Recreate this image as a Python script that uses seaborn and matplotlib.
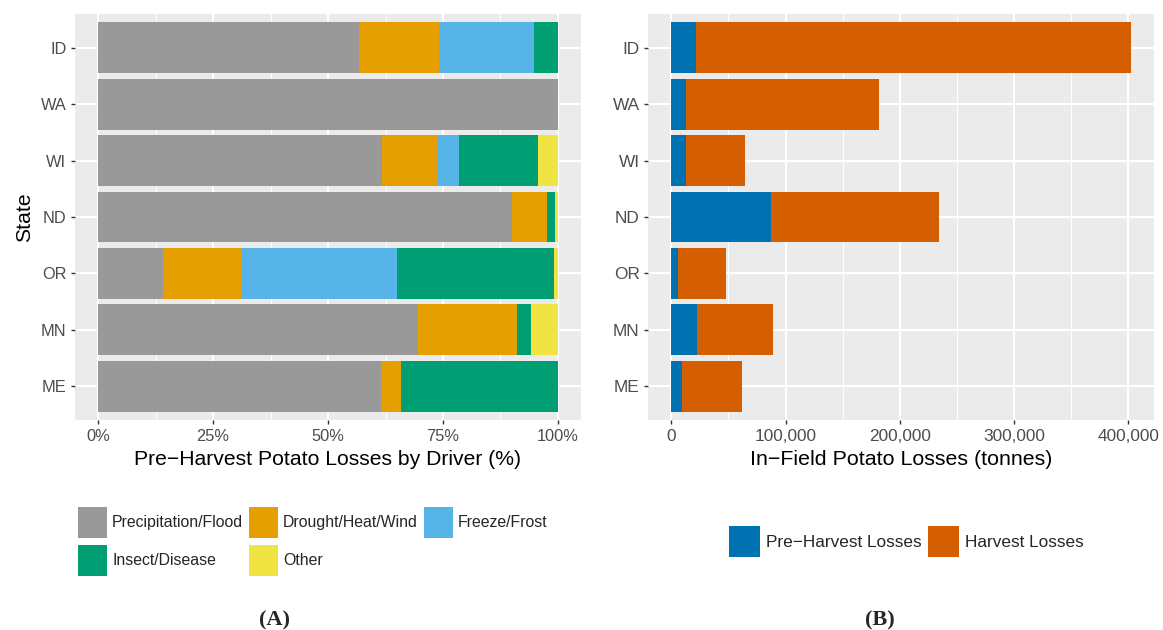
import numpy as np
import pandas as pd
import matplotlib
matplotlib.use("Agg")
import matplotlib.pyplot as plt
from matplotlib.patches import Patch
from matplotlib.ticker import FuncFormatter, MultipleLocator
import seaborn as sns

# ---- data -------------------------------------------------------------
states = ["ID", "WA", "WI", "ND", "OR", "MN", "ME"]

drivers = ["Precipitation/Flood", "Drought/Heat/Wind", "Freeze/Frost",
           "Insect/Disease", "Other"]
precip_flood = [56.7, 100.0, 61.7, 89.9, 14.1, 69.5, 61.5]
drought_heat_wind = [17.4, 0.0, 12.0, 7.8, 17.0, 21.6, 4.4]
freeze_frost = [20.7, 0.0, 4.8, 0.0, 33.9, 0.0, 0.0]
insect_disease = [5.2, 0.0, 17.1, 1.6, 34.1, 3.0, 34.1]
other = [0.0, 0.0, 4.4, 0.7, 0.9, 5.9, 0.0]

loss_types = ["Pre\u2212Harvest Losses", "Harvest Losses"]
pre_harvest = [21800, 13100, 13100, 87000, 5800, 22700, 9600]
harvest = [380500, 168400, 51500, 147700, 42200, 66300, 52400]

driver_colors = ["#999999", "#E69F00", "#56B4E9", "#009E73", "#F0E442"]
loss_colors = ["#0072B2", "#D55E00"]

# ---- style ------------------------------------------------------------
sns.set_theme(style="darkgrid")
plt.rcParams["font.family"] = ["Liberation Sans", "DejaVu Sans"]

# panel A and panel B text sizes (tick text, legend text, axis titles)
FS_A, LEG_A, TITLE_A = 11.8, 11.4, 15.2
FS_B, LEG_B, TITLE_B = 12.4, 12.4, 15.4
PANEL_BG = "#EBEBEB"

W, H = 1163, 630
fig = plt.figure(figsize=(W / 100, H / 100), dpi=100)
fig.patch.set_facecolor("white")


def px_axes(x0, y0, x1, y1):
    return fig.add_axes([x0 / W, 1 - y1 / H, (x1 - x0) / W, (y1 - y0) / H])


ax_a = px_axes(75, 14, 581, 420)
ax_b = px_axes(648.3, 14, 1154, 420)


def stacked_barh(ax, parts, colors):
    """Stack horizontal bars by overlaying cumulative totals, widest first."""
    cum = np.cumsum(np.array(parts, dtype=float), axis=0)
    for level in range(len(parts) - 1, -1, -1):
        df = pd.DataFrame({"state": states, "value": cum[level]})
        sns.barplot(data=df, x="value", y="state", order=states, orient="h",
                    color=colors[level], saturation=1, width=0.9,
                    linewidth=0, edgecolor="none", ax=ax)


def style_panel(ax, fs):
    ax.set_facecolor(PANEL_BG)
    for s in ax.spines.values():
        s.set_visible(False)
    ax.set_ylim(len(states) - 0.4, -0.6)
    ax.set_axisbelow(True)
    ax.grid(False)
    ax.xaxis.grid(True, which="major", color="white", linewidth=1.45)
    ax.xaxis.grid(True, which="minor", color="white", linewidth=0.75)
    ax.yaxis.grid(True, which="major", color="white", linewidth=1.45)
    ax.tick_params(axis="both", which="major", length=3.2, width=1.0,
                   color="#333333", labelcolor="#4D4D4D",
                   labelsize=fs, pad=3.0, bottom=True, left=True)
    ax.tick_params(axis="both", which="minor", length=0)
    ax.tick_params(axis="x", pad=3.5)


# ---- panel A: share of pre-harvest losses by driver ---------------------
stacked_barh(ax_a, [precip_flood, drought_heat_wind, freeze_frost,
                    insect_disease, other], driver_colors)
style_panel(ax_a, FS_A)
ax_a.set_xlim(-5, 105)
ax_a.set_xticks([0, 25, 50, 75, 100])
ax_a.xaxis.set_minor_locator(MultipleLocator(12.5))
ax_a.xaxis.set_major_formatter(FuncFormatter(lambda v, p: f"{v:.0f}%"))
ax_a.set_xlabel("Pre\u2212Harvest Potato Losses by Driver (%)",
                fontsize=TITLE_A, color="black", labelpad=4)
ax_a.set_ylabel("State", fontsize=TITLE_A, color="black", labelpad=5)

# ---- panel B: in-field losses in tonnes -----------------------------------
stacked_barh(ax_b, [pre_harvest, harvest], loss_colors)
style_panel(ax_b, FS_B)
total_max = max(p + h for p, h in zip(pre_harvest, harvest))
ax_b.set_xlim(-0.05 * total_max, 1.05 * total_max)
ax_b.set_xticks([0, 100000, 200000, 300000, 400000])
ax_b.xaxis.set_minor_locator(MultipleLocator(50000))
ax_b.xaxis.set_major_formatter(FuncFormatter(lambda v, p: f"{v:,.0f}"))
ax_b.set_xlabel("In\u2212Field Potato Losses (tonnes)",
                fontsize=TITLE_B, color="black", labelpad=4)
ax_b.set_ylabel("")


# ---- legends ------------------------------------------------------------
def legend_at(handles, x_px, y_px, ncol, fs, key_w, key_h, text_pad,
              row_gap, col_gap):
    fpx = fs * 100 / 72
    # matplotlib draws the patch at fontsize * (0.65 * handleheight + 0.245)
    hh = (key_h / fpx - 0.245) / 0.65
    fig.legend(handles=handles, loc="upper left",
               bbox_to_anchor=(x_px / W, 1 - y_px / H),
               bbox_transform=fig.transFigure, ncol=ncol, frameon=False,
               fontsize=fs, borderpad=0, borderaxespad=0,
               handlelength=key_w / fpx, handleheight=hh,
               handletextpad=text_pad / fpx, labelspacing=row_gap / fpx,
               columnspacing=col_gap / fpx)


driver_handles = [Patch(facecolor=c, edgecolor="none", label=l)
                  for l, c in zip(drivers, driver_colors)]
# row-wise reading order in a 3-column layout
order = [0, 3, 1, 4, 2]
legend_at([driver_handles[i] for i in order], 78, 507, 3, LEG_A,
          29, 31, 5, 7, 6)

loss_handles = [Patch(facecolor=c, edgecolor="none", label=l)
                for l, c in zip(loss_types, loss_colors)]
legend_at(loss_handles, 729, 526, 2, LEG_B, 31, 31, 6, 7, 6)

# ---- panel captions ---------------------------------------------------
for label, xc in [("(A)", 275), ("(B)", 880)]:
    fig.text(xc / W, 1 - 620 / H, label, ha="center", va="center",
             fontsize=16, fontweight="bold",
             family=["Liberation Serif", "DejaVu Serif"])

fig.savefig("out.png", dpi=100, facecolor="white")
